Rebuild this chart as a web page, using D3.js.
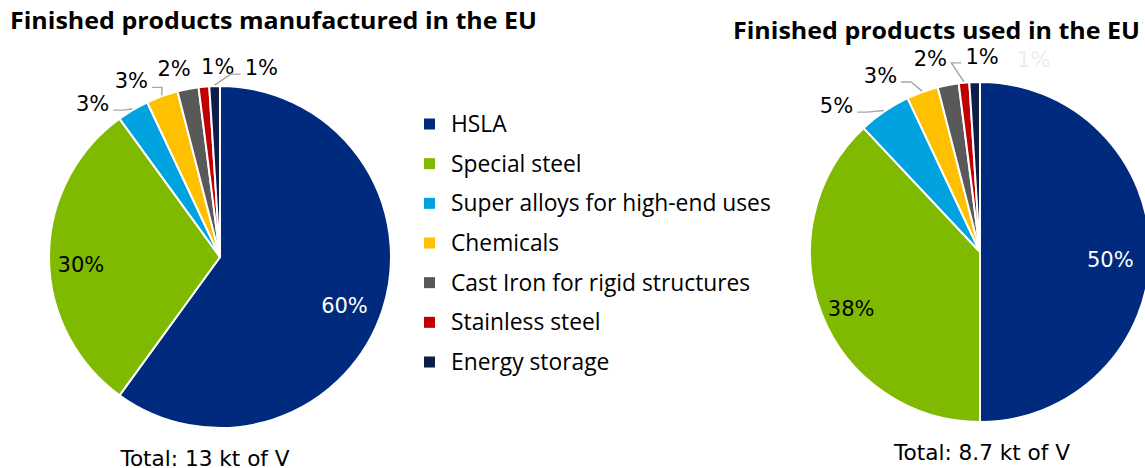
<!DOCTYPE html>
<html>
<head>
<meta charset="utf-8">
<script src="https://cdn.jsdelivr.net/npm/d3@7"></script>
<style>
  html, body { margin: 0; padding: 0; background: #fff; }
  svg { display: block; }
</style>
</head>
<body>
<svg id="chart" width="1145" height="468"></svg>
<script>
// Vanadium end uses, share of finished products (%)
const categories = [
  "HSLA",
  "Special steel",
  "Super alloys for high-end uses",
  "Chemicals",
  "Cast Iron for rigid structures",
  "Stainless steel",
  "Energy storage"
];
const manufacturedShares = [60, 30, 3, 3, 2, 1, 1];
const usedShares = [50, 38, 5, 3, 2, 1, 1];
const chartTitles = ["Finished products manufactured in the EU", "Finished products used in the EU"];
const totalLabels = ["Total: 13 kt of V", "Total: 8.7 kt of V"];
const sliceColors = ["#002a7d", "#7fba00", "#00a2df", "#ffc000", "#595959", "#c00000", "#0d1d4a"];

const svg = d3.select("#chart");
const color = d3.scaleOrdinal(categories, sliceColors);
const pie = d3.pie().sort(null).value(d => d.value);
const DEG = Math.PI / 180;

const pctFont = "'DejaVu Sans', sans-serif";
const pctSize = 21;
const pctCap = 15.3;

const charts = [
  { title: chartTitles[0], total: totalLabels[0], shares: manufacturedShares,
    cx: 220, cy: 257, r: 171, titleX: 10, titleY: 29, titleW: 527,
    totalX: 205, totalY: 466, labelGap: 12, labelSep: 13, faint: null },
  { title: chartTitles[1], total: totalLabels[1], shares: usedShares,
    cx: 980, cy: 252, r: 170, titleX: 733, titleY: 39, titleW: 407,
    totalX: 982, totalY: 460, labelGap: 18, labelSep: 15, faint: "Energy storage" }
];

charts.forEach(c => {
  // title
  svg.append("text")
    .attr("x", c.titleX).attr("y", c.titleY)
    .attr("font-family", "'Open Sans', sans-serif")
    .attr("font-weight", 700).attr("font-size", 23.5)
    .attr("textLength", c.titleW).attr("lengthAdjust", "spacingAndGlyphs")
    .attr("fill", "#000")
    .text(c.title);

  const g = svg.append("g").attr("transform", `translate(${c.cx},${c.cy})`);
  const data = categories.map((k, i) => ({ key: k, value: c.shares[i] }));
  const arcs = pie(data);
  const arc = d3.arc().innerRadius(0).outerRadius(c.r);

  g.selectAll("path.slice").data(arcs).join("path")
    .attr("class", "slice")
    .attr("d", arc)
    .attr("fill", d => color(d.data.key))
    .attr("stroke", "#fff").attr("stroke-width", 2).attr("stroke-linejoin", "round");

  // large slices: labels inside the pie
  const labelArc = d3.arc().innerRadius(c.r * 0.79).outerRadius(c.r * 0.79);
  g.selectAll("text.inside").data(arcs.filter(a => a.data.value >= 10)).join("text")
    .attr("class", "inside")
    .attr("x", d => labelArc.centroid(d)[0] - 4)
    .attr("y", d => labelArc.centroid(d)[1])
    .attr("dy", "0.7em")
    .attr("text-anchor", "middle")
    .attr("font-family", pctFont).attr("font-size", pctSize)
    .attr("fill", d => d3.hsl(color(d.data.key)).l < 0.35 ? "#fff" : "#000")
    .text(d => d.data.value + "%");

  // small slices: labels outside, spread apart along the rim
  const outer = arcs.filter(a => a.data.value < 10)
    .map(a => ({ arc: a, mid: (a.startAngle + a.endAngle) / 2 }));
  outer.forEach(o => { o.pos = o.mid; });
  const minSep = c.labelSep * DEG;
  for (let it = 0; it < 400; it++) {
    for (let i = 1; i < outer.length; i++) {
      const gap = outer[i].pos - outer[i - 1].pos;
      if (gap < minSep) {
        const push = (minSep - gap) / 2;
        outer[i].pos += push;
        outer[i - 1].pos -= push;
      }
    }
  }

  outer.forEach(o => {
    const faint = o.arc.data.key === c.faint;
    const t = g.append("text")
      .attr("text-anchor", "middle")
      .attr("font-family", pctFont).attr("font-size", pctSize)
      .attr("fill", faint ? "#ededed" : "#000")
      .text(o.arc.data.value + "%");
    const w = t.node().getComputedTextLength();
    const s = Math.sin(o.pos), co = Math.cos(o.pos);
    const R = c.r + c.labelGap + Math.abs(s) * w / 2 + Math.abs(co) * pctCap / 2;
    const lx = R * s, ly = -R * co;
    t.attr("x", lx).attr("y", ly + pctCap / 2);

    // leader line when the label has drifted away from its slice
    if (!faint && Math.abs(o.pos - o.mid) > 5 * DEG) {
      const ax = (c.r + 1) * Math.sin(o.mid), ay = -(c.r + 1) * Math.cos(o.mid);
      const toLeft = lx < ax;
      const ex = toLeft ? lx + w / 2 + 4 : lx - w / 2 - 4;
      const ey = ly + pctCap / 2 - 1;
      const bx = toLeft ? ex + 10 : ex - 10;
      g.append("path")
        .attr("d", d3.line()([[ax, ay], [bx, ey], [ex, ey]]))
        .attr("fill", "none").attr("stroke", "#a6a6a6").attr("stroke-width", 1.4);
    }
  });

  // total
  svg.append("text")
    .attr("x", c.totalX).attr("y", c.totalY)
    .attr("text-anchor", "middle")
    .attr("font-family", pctFont).attr("font-size", 21.6)
    .attr("fill", "#000")
    .text(c.total);
});

// legend
const legendY = d3.scalePoint().domain(categories).range([124, 362]);
const legend = svg.append("g");
const rows = legend.selectAll("g").data(categories).join("g")
  .attr("transform", d => `translate(424,${legendY(d)})`);
rows.append("rect")
  .attr("x", 0).attr("y", -5.5).attr("width", 11).attr("height", 11)
  .attr("fill", d => color(d));
rows.append("text")
  .attr("x", 27).attr("y", 8)
  .attr("font-family", "'Open Sans', sans-serif").attr("font-size", 22.8)
  .attr("fill", "#000")
  .text(d => d);
</script>
</body>
</html>
